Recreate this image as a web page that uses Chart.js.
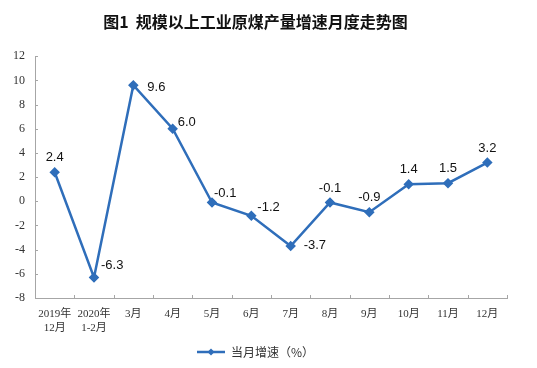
<!DOCTYPE html>
<html>
<head>
<meta charset="utf-8">
<script src="https://cdn.jsdelivr.net/npm/chart.js@4"></script>
<style>
  html, body { margin: 0; padding: 0; background: #fff; }
</style>
</head>
<body>
<canvas id="chartCanvas" width="537" height="368"></canvas>
<script>
// categories & values
const months = [['2019年', '12月'], ['2020年', '1-2月'], '3月', '4月', '5月', '6月', '7月', '8月', '9月', '10月', '11月', '12月'];
const growth = [2.4, -6.3, 9.6, 6.0, -0.1, -1.2, -3.7, -0.1, -0.9, 1.4, 1.5, 3.2];
const yTicks = [-8, -6, -4, -2, 0, 2, 4, 6, 8, 10, 12];
// where each value label sits relative to its point
const labelSide = ['above', 'right', 'right', 'right', 'right', 'right', 'right', 'above', 'above', 'above', 'above', 'above'];
const labelDx = [0, 7, 14, 5, 2, 6, 13, 0, 0, 0, 0, 0];
const labelDy = [0, -12, 2, -6, -9, -8, -1, 0, 0, 0, 0, 0];

const blue = '#2f6eba';
const axisGray = '#a6a6a6';

// legend symbol: line with a diamond in the middle
function legendSymbol() {
    const c = document.createElement('canvas');
    c.width = 28; c.height = 10;
    const g = c.getContext('2d');
    g.strokeStyle = blue;
    g.lineWidth = 2.5;
    g.beginPath(); g.moveTo(0, 5); g.lineTo(28, 5); g.stroke();
    g.fillStyle = blue;
    g.beginPath(); g.moveTo(14, 1.5); g.lineTo(17.5, 5); g.lineTo(14, 8.5); g.lineTo(10.5, 5); g.closePath(); g.fill();
    return c;
}

// value labels next to the points
const valueLabels = {
    id: 'valueLabels',
    afterDatasetsDraw(chart) {
        const ctx = chart.ctx;
        const meta = chart.getDatasetMeta(0);
        ctx.save();
        ctx.font = '13px "Liberation Sans", Arial, sans-serif';
        ctx.fillStyle = '#111';
        meta.data.forEach((pt, i) => {
            const txt = growth[i].toFixed(1);
            if (labelSide[i] === 'above') {
                ctx.textAlign = 'center';
                ctx.textBaseline = 'bottom';
                ctx.fillText(txt, pt.x, pt.y - 8);
            } else {
                ctx.textAlign = 'left';
                ctx.textBaseline = 'middle';
                ctx.fillText(txt, pt.x + labelDx[i], pt.y + labelDy[i]);
            }
        });
        ctx.restore();
    }
};

// small inward tick marks like the original
const innerTicks = {
    id: 'innerTicks',
    afterDraw(chart) {
        const ctx = chart.ctx;
        const y = chart.scales.y;
        const area = chart.chartArea;
        ctx.save();
        ctx.strokeStyle = axisGray;
        ctx.lineWidth = 1;
        yTicks.forEach(v => {
            const py = Math.round(y.getPixelForValue(v)) + 0.5;
            ctx.beginPath();
            ctx.moveTo(area.left, py);
            ctx.lineTo(area.left + 3, py);
            ctx.stroke();
        });
        for (let i = 0; i <= months.length; i++) {
            const px = Math.round(area.left + (area.right - area.left) * i / months.length) + 0.5;
            ctx.beginPath();
            ctx.moveTo(px, area.bottom);
            ctx.lineTo(px, area.bottom - 3);
            ctx.stroke();
        }
        ctx.restore();
    }
};

const symbol = legendSymbol();
const ctx = document.getElementById('chartCanvas').getContext('2d');
new Chart(ctx, {
    type: 'line',
    data: {
        labels: months,
        datasets: [{
            label: '当月增速（%）',
            data: growth,
            borderColor: blue,
            backgroundColor: blue,
            borderWidth: 2.5,
            pointStyle: 'rectRot',
            pointRadius: 3.5,
            pointBackgroundColor: blue,
            pointBorderColor: blue,
            tension: 0,
            fill: false
        }]
    },
    options: {
        responsive: false,
        animation: false,
        layout: { padding: { left: 4, right: 30, bottom: 0 } },
        plugins: {
            title: {
                display: true,
                text: '图1  规模以上工业原煤产量增速月度走势图',
                font: { family: '"Noto Sans CJK SC", sans-serif', size: 16, weight: 'bold' },
                color: '#111',
                padding: { top: 12, bottom: 25 }
            },
            legend: {
                position: 'bottom',
                labels: {
                    font: { family: '"Noto Sans CJK SC", sans-serif', size: 12 },
                    color: '#333',
                    usePointStyle: true,
                    pointStyleWidth: 28,
                    padding: 8,
                    generateLabels: chart => [{
                        text: chart.data.datasets[0].label,
                        pointStyle: symbol,
                        fillStyle: blue,
                        strokeStyle: blue,
                        lineWidth: 0,
                        datasetIndex: 0,
                        fontColor: '#333'
                    }]
                }
            },
            tooltip: { enabled: false }
        },
        scales: {
            x: {
                offset: true,
                grid: { display: false, drawTicks: false },
                border: { color: axisGray },
                ticks: {
                    maxRotation: 0,
                    autoSkip: false,
                    padding: 9,
                    color: '#333',
                    font: { family: '"Liberation Serif", "Noto Sans CJK SC", serif', size: 11, lineHeight: 1.3 }
                },
                afterFit: s => { s.height = 40; }
            },
            y: {
                min: -8,
                max: 12,
                grid: { display: false, drawTicks: false },
                border: { color: axisGray },
                ticks: {
                    stepSize: 2,
                    padding: 10,
                    color: '#333',
                    font: { family: '"Liberation Serif", serif', size: 12 }
                },
                afterFit: s => { s.width = 31; }
            }
        }
    },
    plugins: [valueLabels, innerTicks]
});
</script>
</body>
</html>
